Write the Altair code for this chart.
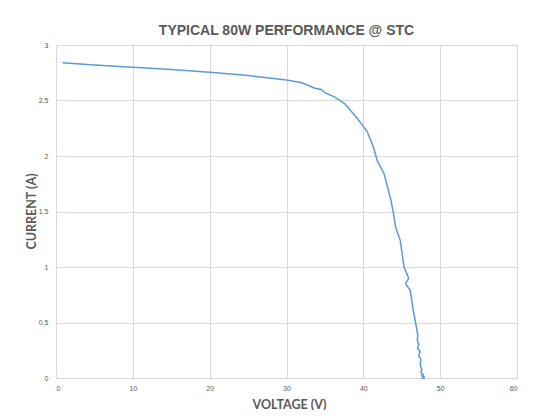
import altair as alt
import pandas as pd

voltage = [0.83, 5, 10, 15, 20, 25, 30, 32, 33.7, 34.5, 35.0, 36.3, 37.6, 39.2, 40.5, 41.1,
           41.4, 41.8, 42.7, 43.6, 44.0, 44.2, 44.8, 45.3, 45.9, 45.5, 46.1, 46.5, 46.9,
           47.1, 47.0, 47.2, 47.05, 47.4, 47.2, 47.5, 47.4, 47.6, 47.5, 47.8, 47.6, 47.9, 47.7, 48.0]
current = [2.84, 2.82, 2.80, 2.78, 2.755, 2.725, 2.685, 2.66, 2.61, 2.60, 2.57, 2.53, 2.47, 2.34, 2.22, 2.12,
           2.06, 1.96, 1.84, 1.60, 1.45, 1.36, 1.24, 1.00, 0.90, 0.85, 0.79, 0.61, 0.46,
           0.38, 0.35, 0.30, 0.27, 0.24, 0.20, 0.17, 0.12, 0.08, 0.05, 0.03, 0.02, 0.01, 0.0, 0.0]

df = pd.DataFrame({"V": voltage, "I": current, "idx": list(range(len(voltage)))})

gray = "#595959"
grid = "#d9d9d9"
axis_font = "Lato"

chart = alt.Chart(df).mark_line(color="#5b9bd5", strokeWidth=1.5).encode(
    x=alt.X("V:Q", scale=alt.Scale(domain=[0, 60], nice=False),
            axis=alt.Axis(title="VOLTAGE (V)", values=[0, 10, 20, 30, 40, 50, 60],
                          grid=True, gridColor=grid, domainColor=grid, ticks=False,
                          labelFontSize=7, labelColor=gray, labelPadding=6,
                          titleFontSize=12.5, titleColor=gray, titleFont=axis_font,
                          titleFontWeight="bold", titleX=233, titleY=26,
                          titleBaseline="middle", titleAlign="center")),
    y=alt.Y("I:Q", scale=alt.Scale(domain=[0, 3], nice=False),
            axis=alt.Axis(title="CURRENT (A)", values=[0, 0.5, 1, 1.5, 2, 2.5, 3],
                          format="~g",
                          grid=True, gridColor=grid, domain=False, ticks=False,
                          labelFontSize=7, labelColor=gray, labelPadding=8,
                          titleFontSize=12.5, titleColor=gray, titleFont=axis_font,
                          titleFontWeight="bold", titleAngle=-90, titleX=-25, titleY=166,
                          titleBaseline="middle", titleAlign="center")),
    order="idx:Q",
).properties(
    width=461, height=333,
    title=alt.TitleParams("TYPICAL 80W PERFORMANCE @ STC", fontSize=14, font="Liberation Sans",
                          fontWeight="bold", color=gray, offset=8, dy=5),
    autosize=alt.AutoSizeParams(type="none"),
    padding={"left": 48, "top": 37, "right": 8, "bottom": 32},
).configure_view(stroke=None)

chart.save("out.html", embed_options={"renderer": "svg", "actions": False})
